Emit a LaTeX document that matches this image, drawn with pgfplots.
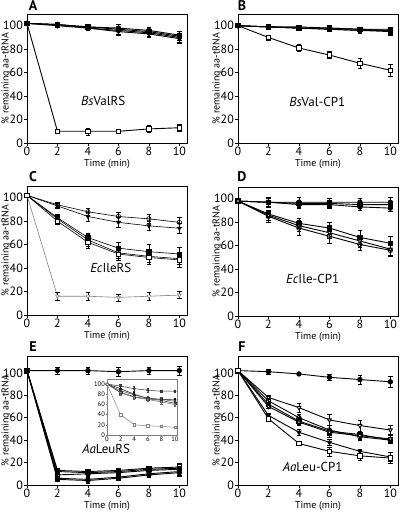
\documentclass[border=0pt]{standalone}
\usepackage{pgfplots}
\pgfplotsset{compat=1.18}
\usepackage{fontspec}
\setmainfont{PT Sans}
\begin{document}
\begin{tikzpicture}
\useasboundingbox (0pt,0pt) rectangle (400pt,512pt);
\tikzset{paneltext/.style={font=\fontsize{13}{15}\selectfont}}
\pgfplotsset{
  panel/.style={
    scale only axis, width=160pt, height=129pt,
    xmin=0, xmax=10.5, ymin=0, ymax=110,
    xtick={0,2,...,10}, ytick={0,20,...,100},
    axis line style={line width=0.8pt},
    tick align=outside, xtick pos=bottom, ytick pos=left,
    major tick length=3pt,
    tick style={line width=0.6pt, black},
    ticklabel style={font=\fontsize{12}{13}\selectfont, inner sep=1pt},
    /pgf/number format/assume math mode=true,
    xlabel={Time (min)}, ylabel={\% remaining aa-tRNA},
    label style={font=\fontsize{12}{13}\selectfont},
    every axis x label/.style={at={(rel axis cs:0.5,0)}, anchor=north, yshift=-13pt},
    every axis y label/.style={at={(rel axis cs:0,0.5)}, xshift=-21pt, rotate=90, anchor=center},
    clip=false,
    every axis plot/.append style={line width=0.9pt, black, mark size=2.2pt},
    error bars/y dir=both, error bars/y explicit,
    error bars/error bar style={line width=0.5pt, black},
    error bars/error mark options={rotate=90, mark size=2.2pt, line width=0.5pt, black},
  },
  fc/.style={mark=*, mark options={fill=black, solid}},
  fs/.style={mark=square*, mark options={fill=black, solid}},
  ft/.style={mark=triangle*, mark options={fill=black, rotate=180, solid}},
  oc/.style={mark=o, mark options={fill=white, solid}},
  os/.style={mark=square*, mark options={fill=white, solid}},
  ot/.style={mark=triangle*, mark options={fill=white, rotate=180, solid}},
  gt/.style={mark=triangle*, mark options={fill=white, draw=gray, rotate=180, solid}, draw=gray, line width=0.6pt},
}
\newcommand{\plab}[3]{\node[font=\bfseries\fontsize{14}{15}\selectfont] at (#1pt,512pt-#2pt) {#3};}

% ---------------- Panel A ----------------
\begin{axis}[panel, at={(27pt,369pt)}, anchor=south west]
\addplot[os] coordinates {(0,102)+-(0,1) (2,10)+-(0,2) (4,10)+-(0,3) (6,10)+-(0,2) (8,12)+-(0,3) (10,13)+-(0,3)};
\addplot[fs] coordinates {(0,102)+-(0,1) (2,101)+-(0,1) (4,99)+-(0,2) (6,97)+-(0,2) (8,95)+-(0,2) (10,91)+-(0,3)};
\addplot[oc] coordinates {(0,102)+-(0,1) (2,101)+-(0,1) (4,99)+-(0,2) (6,98)+-(0,3) (8,96)+-(0,3) (10,92)+-(0,3)};
\addplot[fc] coordinates {(0,102)+-(0,1) (2,101)+-(0,1) (4,98)+-(0,2) (6,96)+-(0,3) (8,94)+-(0,3) (10,90)+-(0,4)};
\addplot[ft] coordinates {(0,102)+-(0,1) (2,100)+-(0,1) (4,98)+-(0,2) (6,95)+-(0,3) (8,93)+-(0,3) (10,89)+-(0,4)};
\node[paneltext] at (axis cs:5.0,36) {\textit{Bs}ValRS};
\end{axis}
\plab{33}{6}{A}

% ---------------- Panel B ----------------
\begin{axis}[panel, at={(238pt,369pt)}, anchor=south west]
\addplot[os] coordinates {(0,100)+-(0,1) (2,90)+-(0,2) (4,81)+-(0,3) (6,75)+-(0,3) (8,68)+-(0,4) (10,62)+-(0,5)};
\addplot[fs] coordinates {(0,100)+-(0,1) (2,99)+-(0,1) (4,98)+-(0,1) (6,98)+-(0,2) (8,97)+-(0,2) (10,96)+-(0,3)};
\addplot[fc] coordinates {(0,100)+-(0,1) (2,99)+-(0,1) (4,98)+-(0,1) (6,97)+-(0,2) (8,96)+-(0,2) (10,95)+-(0,3)};
\addplot[ft] coordinates {(0,100)+-(0,1) (2,99)+-(0,1) (4,99)+-(0,1) (6,98)+-(0,2) (8,97)+-(0,2) (10,97)+-(0,2)};
\addplot[oc] coordinates {(0,100)+-(0,1) (2,99)+-(0,1) (4,98)+-(0,1) (6,97)+-(0,2) (8,96)+-(0,2) (10,96)+-(0,2)};
\node[paneltext] at (axis cs:5.2,35) {\textit{Bs}Val-CP1};
\end{axis}
\plab{242}{6}{B}

% ---------------- Panel C ----------------
\begin{axis}[panel, at={(27pt,197pt)}, anchor=south west]
\addplot[gt] coordinates {(0,102)+-(0,1) (2,16)+-(0,3) (4,16)+-(0,3) (6,15)+-(0,3) (8,16)+-(0,3) (10,17)+-(0,3)};
\addplot[oc, line width=0.6pt] coordinates {(0,102)+-(0,1) (2,94)+-(0,2) (4,88)+-(0,3) (6,84)+-(0,4) (8,82)+-(0,4) (10,79)+-(0,4)};
\addplot[ft, line width=0.6pt] coordinates {(0,102)+-(0,1) (2,93)+-(0,2) (4,84)+-(0,4) (6,79)+-(0,4) (8,76)+-(0,4) (10,74)+-(0,4)};
\addplot[fs, line width=0.6pt] coordinates {(0,102)+-(0,1) (2,83)+-(0,3) (4,66)+-(0,4) (6,57)+-(0,5) (8,54)+-(0,6) (10,52)+-(0,6)};
\addplot[oc, line width=0.6pt] coordinates {(0,102)+-(0,1) (2,82)+-(0,3) (4,64)+-(0,5) (6,53)+-(0,5) (8,50)+-(0,5) (10,48)+-(0,5)};
\addplot[os, line width=0.6pt] coordinates {(0,102)+-(0,1) (2,80)+-(0,3) (4,62)+-(0,5) (6,52)+-(0,5) (8,49)+-(0,6) (10,47)+-(0,6)};
\node[paneltext] at (axis cs:5.5,40) {\textit{Ec}IleRS};
\end{axis}
\plab{33}{177}{C}

% ---------------- Panel D ----------------
\begin{axis}[panel, at={(238pt,196pt)}, anchor=south west]
\addplot[oc] coordinates {(0,98)+-(0,1) (2,97)+-(0,4) (4,97)+-(0,4) (6,97)+-(0,3) (8,97)+-(0,3) (10,97)+-(0,4)};
\addplot[fs] coordinates {(0,98)+-(0,1) (2,97)+-(0,3) (4,96)+-(0,3) (6,96)+-(0,3) (8,95)+-(0,3) (10,95)+-(0,3)};
\addplot[fc] coordinates {(0,98)+-(0,1) (2,97)+-(0,2) (4,95)+-(0,3) (6,95)+-(0,3) (8,93)+-(0,3) (10,92)+-(0,3)};
\addplot[fs] coordinates {(0,98)+-(0,1) (2,87)+-(0,3) (4,79)+-(0,4) (6,75)+-(0,5) (8,67)+-(0,6) (10,62)+-(0,6)};
\addplot[ot] coordinates {(0,98)+-(0,1) (2,86)+-(0,4) (4,77)+-(0,5) (6,71)+-(0,5) (8,64)+-(0,5) (10,57)+-(0,5)};
\addplot[oc] coordinates {(0,98)+-(0,1) (2,85)+-(0,5) (4,75)+-(0,6) (6,68)+-(0,6) (8,61)+-(0,5) (10,56)+-(0,5)};
\node[paneltext] at (axis cs:4.9,32) {\textit{Ec}Ile-CP1};
\end{axis}
\plab{242}{177}{D}

% ---------------- Panel E ----------------
\begin{axis}[panel, at={(27pt,27pt)}, anchor=south west, ymax=115]
\addplot[fc] coordinates {(0,102)+-(0,1) (2,102)+-(0,3) (4,102)+-(0,3) (6,101)+-(0,4) (8,102)+-(0,3) (10,102)+-(0,4)};
\addplot[os] coordinates {(0,102)+-(0,1) (2,13)+-(0,2) (4,12)+-(0,2) (6,13)+-(0,2) (8,15)+-(0,2) (10,16)+-(0,3)};
\addplot[fs] coordinates {(0,102)+-(0,1) (2,12)+-(0,2) (4,11)+-(0,2) (6,12)+-(0,2) (8,14)+-(0,2) (10,15)+-(0,3)};
\addplot[oc] coordinates {(0,102)+-(0,1) (2,9)+-(0,2) (4,10)+-(0,2) (6,11)+-(0,2) (8,13)+-(0,2) (10,14)+-(0,3)};
\addplot[ot] coordinates {(0,102)+-(0,1) (2,6)+-(0,2) (4,5)+-(0,2) (6,7)+-(0,2) (8,10)+-(0,2) (10,12)+-(0,3)};
\addplot[fc] coordinates {(0,102)+-(0,1) (2,5)+-(0,2) (4,4)+-(0,2) (6,6)+-(0,2) (8,9)+-(0,2) (10,11)+-(0,3)};
\node[paneltext] at (axis cs:5.2,32) {\textit{Aa}LeuRS};
\end{axis}
\plab{33}{347}{E}
% inset
\begin{axis}[scale only axis, width=70pt, height=56pt, at={(107pt,77pt)}, anchor=south west,
  xmin=0, xmax=10.3, ymin=0, ymax=110,
  xtick={0,2,...,10}, ytick={0,20,...,100},
  axis line style={line width=0.5pt, gray},
  tick align=outside, xtick pos=bottom, ytick pos=left, major tick length=1.5pt,
  tick style={line width=0.4pt, gray},
  ticklabel style={font=\fontsize{6.5}{7}\selectfont, inner sep=0.5pt},
  /pgf/number format/assume math mode=true,
  clip=false,
  every axis plot/.append style={line width=0.5pt, mark size=1.2pt},
  error bars/y dir=both, error bars/y explicit,
  error bars/error bar style={line width=0.3pt},
  error bars/error mark options={rotate=90, mark size=1.2pt, line width=0.3pt}]
\addplot[black!80, mark=*, mark options={fill=black!80}] coordinates {(0,100)+-(0,1) (2,96)+-(0,4) (4,91)+-(0,5) (6,88)+-(0,4) (8,86)+-(0,2) (10,86)+-(0,2)};
\addplot[black, mark=*, mark options={fill=black}] coordinates {(0,100)+-(0,1) (2,91)+-(0,4) (4,80)+-(0,4) (6,72)+-(0,4) (8,70)+-(0,4) (10,69)+-(0,4)};
\addplot[black!70, mark=o, mark options={fill=white}] coordinates {(0,100)+-(0,1) (2,87)+-(0,4) (4,79)+-(0,4) (6,72)+-(0,4) (8,70)+-(0,4) (10,66)+-(0,4)};
\addplot[black!80, mark=square*, mark options={fill=black!80}] coordinates {(0,100)+-(0,1) (2,84)+-(0,4) (4,75)+-(0,4) (6,71)+-(0,4) (8,68)+-(0,4) (10,62)+-(0,4)};
\addplot[black!60, mark=triangle*, mark options={fill=white, rotate=180}] coordinates {(0,100)+-(0,1) (2,83)+-(0,4) (4,74)+-(0,4) (6,70)+-(0,4) (8,65)+-(0,4) (10,60)+-(0,4)};
\addplot[gray, mark=square*, mark options={fill=white}] coordinates {(0,100)+-(0,1) (2,40)+-(0,1) (4,20)+-(0,1) (6,18)+-(0,1) (8,17)+-(0,1) (10,15)+-(0,1)};
\end{axis}

% ---------------- Panel F ----------------
\begin{axis}[panel, at={(238pt,27pt)}, anchor=south west, ymax=115]
\addplot[fc] coordinates {(0,102)+-(0,1) (2,101)+-(0,2) (4,99)+-(0,1) (6,96)+-(0,3) (8,94)+-(0,4) (10,92)+-(0,5)};
\addplot[ot] coordinates {(0,102)+-(0,1) (2,78)+-(0,2) (4,69)+-(0,4) (6,58)+-(0,5) (8,53)+-(0,5) (10,49)+-(0,4)};
\addplot[oc] coordinates {(0,102)+-(0,1) (2,75)+-(0,2) (4,60)+-(0,3) (6,49)+-(0,4) (8,43)+-(0,3) (10,40)+-(0,3)};
\addplot[fs] coordinates {(0,102)+-(0,1) (2,72)+-(0,2) (4,57)+-(0,3) (6,48)+-(0,5) (8,45)+-(0,3) (10,40)+-(0,3)};
\addplot[ot] coordinates {(0,102)+-(0,1) (2,70)+-(0,2) (4,56)+-(0,3) (6,47)+-(0,3) (8,44)+-(0,3) (10,41)+-(0,3)};
\addplot[ft] coordinates {(0,102)+-(0,1) (2,62)+-(0,2) (4,47)+-(0,3) (6,38)+-(0,3) (8,30)+-(0,2) (10,25)+-(0,4)};
\addplot[os] coordinates {(0,102)+-(0,1) (2,59)+-(0,2) (4,37)+-(0,2) (6,30)+-(0,4) (8,26)+-(0,4) (10,24)+-(0,5)};
\node[paneltext] at (axis cs:4.9,16) {\textit{Aa}Leu-CP1};
\end{axis}
\plab{242}{347}{F}
\end{tikzpicture}
\end{document}
